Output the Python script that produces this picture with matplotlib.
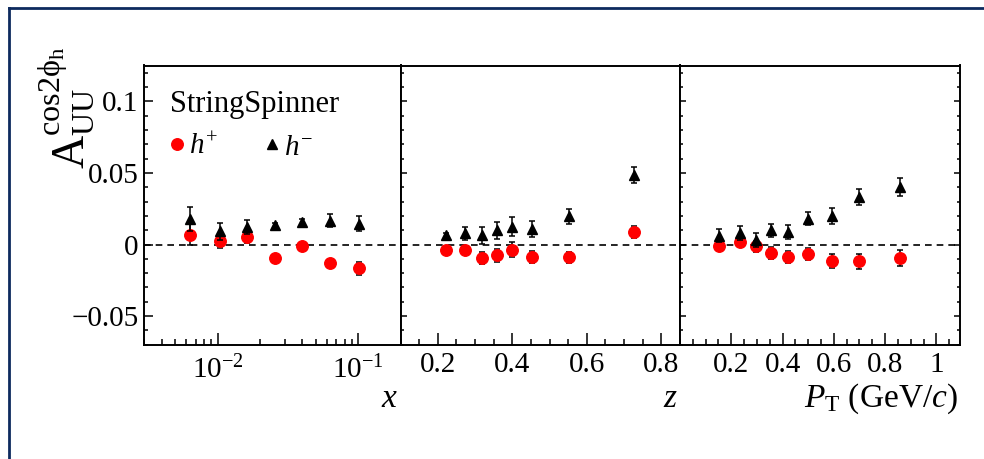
import numpy as np
import matplotlib
matplotlib.use("Agg")
import matplotlib.pyplot as plt
from matplotlib.lines import Line2D
from matplotlib.ticker import MultipleLocator, LogLocator, NullFormatter

plt.rcParams['font.family'] = 'serif'
plt.rcParams['font.serif'] = ['Liberation Serif', 'DejaVu Serif']
plt.rcParams['mathtext.fontset'] = 'custom'
plt.rcParams['mathtext.rm'] = 'Liberation Serif'
plt.rcParams['mathtext.it'] = 'Liberation Serif:italic'
plt.rcParams['mathtext.bf'] = 'Liberation Serif:bold'

# --- data ---
x_bins = [0.0064, 0.0104, 0.0163, 0.0257, 0.0398, 0.063, 0.101]
x_hp = [0.0069, 0.0023, 0.0051, -0.0097, -0.0007, -0.0127, -0.0167]
x_hp_err = [0.0072, 0.0044, 0.0037, 0.0015, 0.0015, 0.0015, 0.0044]
x_hm = [0.0181, 0.0093, 0.0123, 0.0134, 0.0160, 0.0167, 0.0146]
x_hm_err = [0.0083, 0.0058, 0.0049, 0.0015, 0.0015, 0.0044, 0.0053]

z_bins = [0.223, 0.273, 0.318, 0.359, 0.398, 0.452, 0.553, 0.726]
z_hp = [-0.0039, -0.0037, -0.0093, -0.0074, -0.0035, -0.0090, -0.0090, 0.0088]
z_hp_err = [0.0015, 0.0015, 0.0040, 0.0045, 0.0050, 0.0042, 0.0040, 0.0040]
z_hm = [0.0065, 0.0079, 0.0065, 0.0100, 0.0125, 0.0111, 0.0197, 0.0484]
z_hm_err = [0.0015, 0.0044, 0.0060, 0.0058, 0.0067, 0.0056, 0.0053, 0.0056]

pt_bins = [0.152, 0.234, 0.298, 0.356, 0.421, 0.500, 0.592, 0.698, 0.859]
pt_hp = [-0.0007, 0.0019, -0.0012, -0.0058, -0.0086, -0.0065, -0.0113, -0.0118, -0.0093]
pt_hp_err = [0.0030, 0.0030, 0.0040, 0.0040, 0.0040, 0.0040, 0.0050, 0.0050, 0.0056]
pt_hm = [0.0063, 0.0081, 0.0032, 0.0100, 0.0088, 0.0181, 0.0199, 0.0331, 0.0403]
pt_hm_err = [0.0044, 0.0049, 0.0049, 0.0046, 0.0049, 0.0046, 0.0056, 0.0056, 0.0065]

ylim = (-0.0702, 0.1251)

W, H = 984, 459
fig = plt.figure(figsize=(W / 100, H / 100), dpi=100)

def px_box(x0, x1, y0, y1):
    return [x0 / W, 1 - y1 / H, (x1 - x0) / W, (y1 - y0) / H]

ax1 = fig.add_axes(px_box(144, 400.5, 65.5, 345))
ax2 = fig.add_axes(px_box(400.5, 680, 65.5, 345))
ax3 = fig.add_axes(px_box(680, 959.5, 65.5, 345))

def draw(ax, xs, hp, hpe, hm, hme):
    ax.axhline(0, color='black', lw=1.2, ls=(0, (4, 3)), zorder=1)
    ax.errorbar(xs, hp, yerr=hpe, fmt='o', color='#ff0000', ecolor='black',
                ms=8.3, elinewidth=1.1, capsize=2.5, capthick=1.1, zorder=3)
    ax.errorbar(xs, hm, yerr=hme, fmt='^', color='black', ecolor='black',
                ms=7, elinewidth=1.1, capsize=2.5, capthick=1.1, zorder=4)
    ax.set_ylim(*ylim)
    for s in ax.spines.values():
        s.set_linewidth(1.4)

draw(ax1, x_bins, x_hp, x_hp_err, x_hm, x_hm_err)
draw(ax2, z_bins, z_hp, z_hp_err, z_hm, z_hm_err)
draw(ax3, pt_bins, pt_hp, pt_hp_err, pt_hm, pt_hm_err)

# x axes
ax1.set_xscale('log')
ax1.set_xlim(0.003, 0.2)
ax1.xaxis.set_major_locator(LogLocator(base=10, numticks=10))
ax1.xaxis.set_minor_locator(LogLocator(base=10, subs=np.arange(2, 10), numticks=20))
ax1.xaxis.set_minor_formatter(NullFormatter())

ax2.set_xlim(0.1, 0.85)
ax2.xaxis.set_minor_locator(MultipleLocator(0.05))
ax2.set_xticks([0.2, 0.4, 0.6, 0.8])
ax2.set_xticklabels(['0.2', '0.4', '0.6', '0.8'])

ax3.set_xlim(0.0, 1.09)
ax3.xaxis.set_minor_locator(MultipleLocator(0.05))
ax3.set_xticks([0.2, 0.4, 0.6, 0.8, 1.0])
ax3.set_xticklabels(['0.2', '0.4', '0.6', '0.8', '1'])

# y axes
for ax in (ax1, ax2, ax3):
    ax.yaxis.set_major_locator(MultipleLocator(0.05))
    ax.yaxis.set_minor_locator(MultipleLocator(0.01))
    ax.tick_params(axis='x', which='major', direction='in', length=8.5, width=1.1,
                   labelsize=21, pad=5, top=False)
    ax.tick_params(axis='x', which='minor', direction='in', length=4.3, width=1.1, top=False)

ax1.set_yticks([-0.05, 0, 0.05, 0.1])
ax1.set_yticklabels(['\u22120.05', '0', '0.05', '0.1'])
ax1.tick_params(axis='y', which='major', direction='in', length=6.5, width=1.1,
                labelsize=21, pad=4, right=False)
ax1.tick_params(axis='y', which='minor', direction='in', length=3.2, width=1.1, right=False)
ax1.tick_params(axis='x', which='major', pad=8)
for ax in (ax2, ax3):
    ax.tick_params(axis='y', which='major', direction='in', length=4.5, width=1.1,
                   labelleft=False, right=(ax is ax3))
    ax.tick_params(axis='y', which='minor', direction='in', length=2.2, width=1.1,
                   right=(ax is ax3))

# legend
handles = [Line2D([], [], ls='none', marker='o', color='#ff0000', ms=8.3),
           Line2D([], [], ls='none', marker='^', color='black', ms=7)]
leg = ax1.legend(handles, ['$h^{+}$', '$h^{-}$'], ncol=2, title='StringSpinner',
                 loc='upper left', bbox_to_anchor=(0.045, 0.965), frameon=False,
                 fontsize=21, title_fontsize=22, handlelength=0.5, handletextpad=0.15,
                 columnspacing=1.6, borderpad=0.0, alignment='left')

# axis titles
fig.text(398 / W, 1 - 407 / H, '$x$', fontsize=24, ha='right', va='baseline')
fig.text(678 / W, 1 - 407 / H, '$z$', fontsize=24, ha='right', va='baseline')
fig.text(958 / W, 1 - 407 / H, r'$P_{\mathrm{T}}$ (GeV/$c$)', fontsize=24,
         ha='right', va='baseline')
fig.text(66 / W, 1 - 46 / H, r'$\mathrm{A}_{\mathrm{UU}}^{\mathrm{cos2\phi_{h}}}$',
         fontsize=33, rotation=90, ha='center', va='top')

# outer frame
fig.add_artist(Line2D([9 / W, 1], [1 - 8 / H, 1 - 8 / H], transform=fig.transFigure,
                      color='#0d2a5e', lw=2))
fig.add_artist(Line2D([9 / W, 9 / W], [0, 1 - 8 / H], transform=fig.transFigure,
                      color='#0d2a5e', lw=2))

fig.savefig('out.png', dpi=100)
